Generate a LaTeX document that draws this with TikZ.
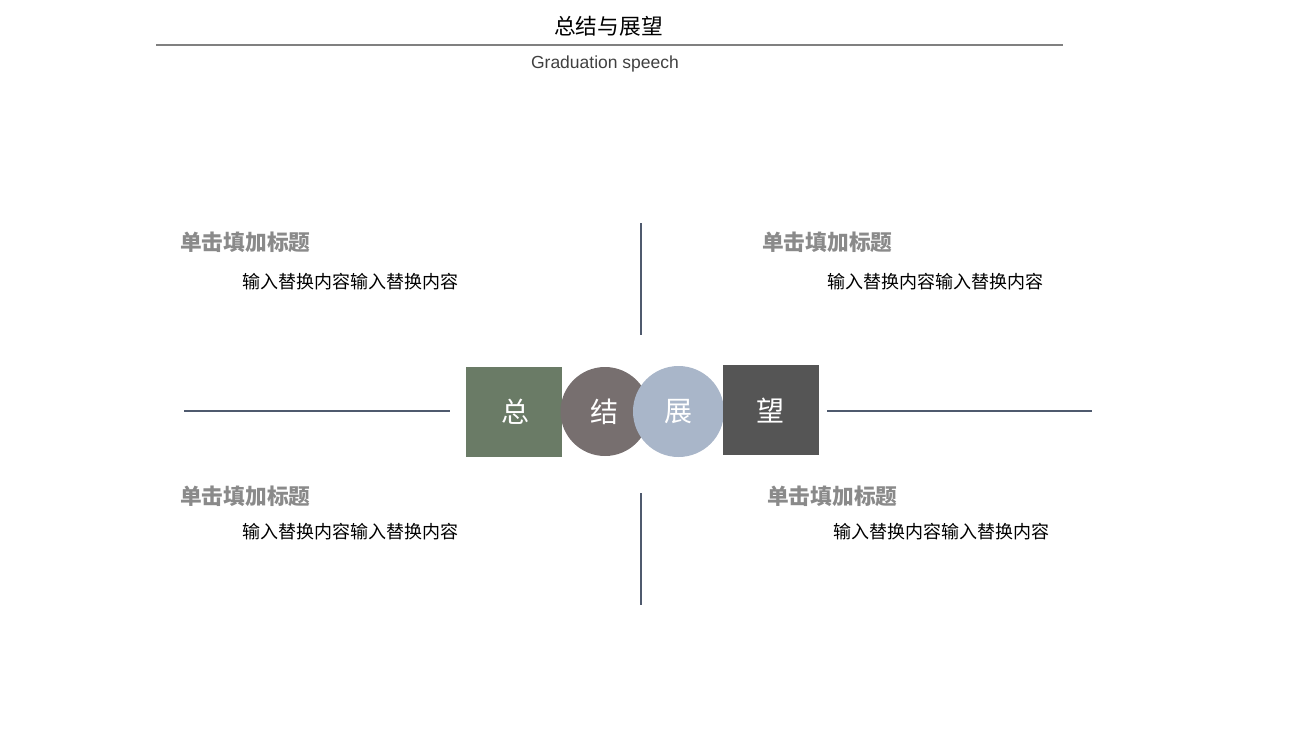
\documentclass[tikz,border=0pt]{standalone}
\usepackage{fontspec}
\setmainfont{Liberation Sans}
\newfontfamily\cjk{Noto Sans CJK SC}
\definecolor{titlegray}{HTML}{808080}
\definecolor{subgray}{HTML}{404040}
\definecolor{headgray}{HTML}{8A8A8A}
\definecolor{slate}{HTML}{4F5A6E}
\definecolor{sqgreen}{HTML}{6A7B66}
\definecolor{circbrown}{HTML}{776F6F}
\definecolor{circblue}{HTML}{A9B6C9}
\definecolor{sqdark}{HTML}{555555}
\tikzset{
  heading/.style={anchor=west, inner sep=0pt, text=headgray, font=\cjk\bfseries\fontsize{21.7}{24}\selectfont},
  body/.style={anchor=west, inner sep=0pt, text=black, font=\cjk\fontsize{18}{21}\selectfont},
  divider/.style={draw=slate, line width=2pt},
  bigchar/.style={text=white, font=\cjk\fontsize{28}{32}\selectfont, inner sep=0pt}
}
\begin{document}
\begin{tikzpicture}[x=1pt,y=-1pt]
\useasboundingbox (0,0) rectangle (1296,740);
% title
\node[inner sep=0pt, font=\cjk\fontsize{21.7}{24}\selectfont] (title) at (608.5,26) {总结与展望};
\coordinate (tl) at (156,44.5);
\coordinate (tr) at (1063,44.5);
\draw[titlegray, line width=2pt] (tl) -- (tr);
\node[inner sep=0pt, text=subgray, font=\fontsize{17.5}{20}\selectfont] (sub) at (605,63.5) {Graduation speech};
% headings
\node[heading] (h1) at (180,242) {单击填加标题};
\node[heading] (h2) at (762,242) {单击填加标题};
\node[heading] (h3) at (180,496) {单击填加标题};
\node[heading] (h4) at (767,496) {单击填加标题};
% bodies
\node[body] (b1) at (242,282) {输入替换内容输入替换内容};
\node[body] (b2) at (827,282) {输入替换内容输入替换内容};
\node[body] (b3) at (242,532) {输入替换内容输入替换内容};
\node[body] (b4) at (833,532) {输入替换内容输入替换内容};
% dividers
\coordinate (v1a) at (641,223); \coordinate (v1b) at (641,335);
\coordinate (v2a) at (641,493); \coordinate (v2b) at (641,605);
\coordinate (l1a) at (184,411); \coordinate (l1b) at (450,411);
\coordinate (l2a) at (827,411); \coordinate (l2b) at (1092,411);
\draw[divider] (v1a) -- (v1b);
\draw[divider] (v2a) -- (v2b);
\draw[divider] (l1a) -- (l1b);
\draw[divider] (l2a) -- (l2b);
% center shapes
\fill[sqgreen] (466,367) rectangle (562,457);
\fill[circbrown] (605,411.5) circle (44.5);
\fill[circblue] (678.5,411.5) circle (45.5);
\fill[sqdark] (723,365) rectangle (819,455);
\node[bigchar] (c1) at (515,412) {总};
\node[bigchar] (c2) at (604,412) {结};
\node[bigchar] (c3) at (678,412) {展};
\node[bigchar] (c4) at (770,411) {望};
\end{tikzpicture}
\end{document}
